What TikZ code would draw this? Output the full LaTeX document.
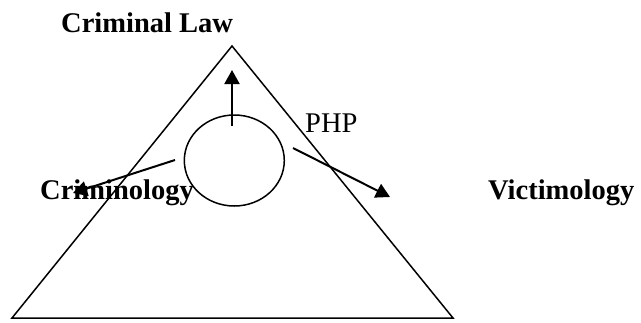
\documentclass[tikz,border=0pt]{standalone}
\usepackage{fontspec}
\setmainfont{Liberation Serif}
\usetikzlibrary{shapes.geometric,arrows.meta}
\tikzset{
  lbl/.style={anchor=base west,inner sep=0pt,font=\fontsize{28.5}{30}\selectfont\bfseries},
  plbl/.style={anchor=base west,inner sep=0pt,font=\fontsize{28.5}{30}\selectfont},
  shapeline/.style={line width=1.5pt},
  arr/.style={line width=2pt,-{Triangle[length=14pt,width=15pt]}}
}
\begin{document}
\begin{tikzpicture}[x=1pt,y=-1pt]
\useasboundingbox (0,0) rectangle (641,322);
\coordinate (apex) at (232,46);
\coordinate (bl) at (12,318);
\coordinate (br) at (453,318);
\draw[shapeline,line join=miter] (apex) -- (br) -- (bl) -- cycle;
\node[draw,shapeline,ellipse,minimum width=100pt,minimum height=91pt,inner sep=0pt] (e) at (234.3,160.5) {};
\node[lbl] (law) at (61,32) {Criminal Law};
\node[lbl] (crim) at (40,199) {Criminology};
\node[lbl] (vict) at (488,199) {Victimology};
\node[plbl] (php) at (305,132) {PHP};
\coordinate (us) at (232,126);
\coordinate (ut) at (232,70);
\coordinate (rs) at (293,148);
\coordinate (rt) at (390,197);
\coordinate (ls) at (175,160);
\coordinate (lt) at (73,193);
\draw[arr] (us) -- (ut);
\draw[arr] (rs) -- (rt);
\draw[arr] (ls) -- (lt);
\end{tikzpicture}
\end{document}
